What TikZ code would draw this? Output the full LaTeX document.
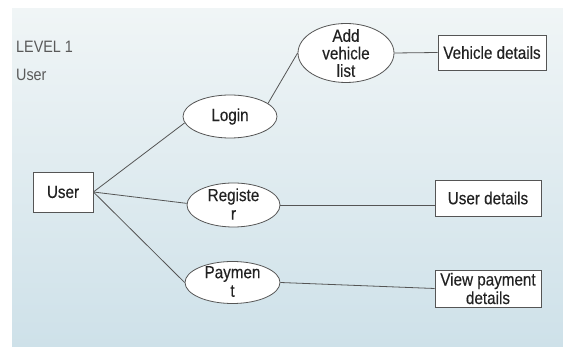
\documentclass[tikz,border=0pt]{standalone}
\usepackage{fontspec}
\setmainfont[FakeStretch=0.87,FakeBold=0.3]{Liberation Sans}
\newfontfamily\lightlbl[FakeStretch=0.87]{Liberation Sans}
\usetikzlibrary{shapes.geometric}
\definecolor{linec}{HTML}{555555}
\definecolor{txt}{HTML}{222222}
\definecolor{paneltop}{HTML}{F0F5F6}
\definecolor{panelbot}{HTML}{CEE1E9}
\begin{document}
\begin{tikzpicture}[x=1pt,y=-1pt,
  every node/.style={font=\fontsize{17.5}{18.5}\selectfont, text=txt},
  proc/.style={ellipse, draw=linec, fill=white, line width=0.8pt, inner sep=0pt},
  ptext/.style={align=center, inner sep=0pt},
  ent/.style={rectangle, draw=linec, fill=white, line width=0.8pt, inner sep=0pt, align=center},
  conn/.style={draw=linec, line width=0.8pt},
  lbl/.style={anchor=west, text=black!65, inner sep=0pt, font=\lightlbl\fontsize{16.5}{18}\selectfont}]
\useasboundingbox (0,0) rectangle (563,347);
\fill[white] (0,0) rectangle (563,347);
\shade[top color=paneltop, bottom color=panelbot] (12,9) rectangle (563,347);
\node[lbl] (lv) at (16,47) {LEVEL 1};
\node[lbl] (us) at (16,75) {User};
\node[ent, minimum width=60pt, minimum height=40pt] (user) at (63,192) {User};
\node[proc, minimum width=94pt, minimum height=43pt] (login) at (230,116.5) {};
\node[ptext] at (login.center) {Login};
\node[proc, minimum width=96pt, minimum height=59pt] (addv) at (346,53) {};
\node[ptext, font=\fontsize{17.5}{17.5}\selectfont] at (addv.center) {Add\\vehicle\\list};
\node[proc, minimum width=93pt, minimum height=44pt] (reg) at (233.5,205) {};
\node[ptext] at ([yshift=1pt]reg.center) {Registe\\r};
\node[proc, minimum width=95pt, minimum height=42pt] (pay) at (232.5,282.5) {};
\node[ptext] at ([yshift=1pt]pay.center) {Paymen\\t};
\node[ent, minimum width=108pt, minimum height=35pt] (vd) at (492,52.5) {Vehicle details};
\node[ent, minimum width=106pt, minimum height=36pt] (ud) at (488,198) {User details};
\node[ent, minimum width=106pt, minimum height=37pt] (vp) at (488,288.5) {View payment\\details};
\draw[conn] (user.east) -- (login.188);
\draw[conn] (user.east) -- (reg.178);
\draw[conn] (user.east) -- (pay.west);
\draw[conn] (login.19) -- (addv.west);
\draw[conn] (addv.east) -- (vd.west);
\draw[conn] (reg.east) -- (reg.east -| ud.west);
\draw[conn] (pay.east) -- (vp.west);
\end{tikzpicture}
\end{document}
